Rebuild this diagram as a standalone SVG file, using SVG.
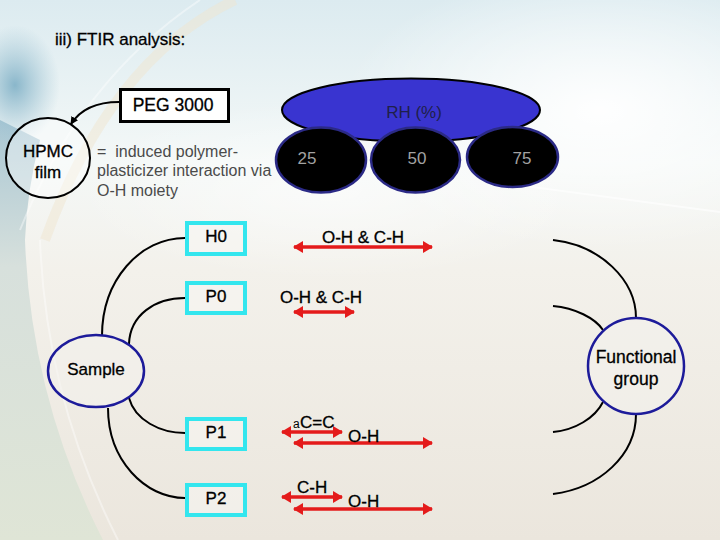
<svg xmlns="http://www.w3.org/2000/svg" width="720" height="540" viewBox="0 0 720 540">
<defs>
<style>
text{font-family:"Liberation Sans",Arial,sans-serif;fill:#000}
.t17{font-size:17px;stroke:#000;stroke-width:0.3}
.gray{fill:#4a4a4a;font-size:16px}
.num{fill:#a2a2a2;font-size:17px}
.cy{fill:#f6f5f1;fill-opacity:0.6;stroke:#33e6ee;stroke-width:4}
.blk{fill:#000;stroke:#2b2a86;stroke-width:2.5}
.nav{fill:#f4f2ee;fill-opacity:0.5;stroke:#1d1b9a;stroke-width:2.5}
.con{fill:none;stroke:#000;stroke-width:2}
.red{fill:none;stroke:#e41b1b;stroke-width:3.5;marker-start:url(#rh);marker-end:url(#rh)}
</style>
<marker id="rh" markerUnits="userSpaceOnUse" markerWidth="10" markerHeight="12" viewBox="0 0 10 12" refX="9" refY="6" orient="auto-start-reverse">
<path d="M0,0 L10,6 L0,12 z" fill="#e41b1b"/>
</marker>
<marker id="bh" markerUnits="userSpaceOnUse" markerWidth="8" markerHeight="8" viewBox="0 0 8 8" refX="7" refY="4" orient="auto">
<path d="M0,0 L8,4 L0,8 z" fill="#000"/>
</marker>
<linearGradient id="bg" x1="0" y1="0" x2="0" y2="1">
<stop offset="0" stop-color="#dcebf0"/>
<stop offset="0.3" stop-color="#f4f8f7"/>
<stop offset="0.5" stop-color="#f3f1eb"/>
<stop offset="1" stop-color="#ebe6dd"/>
</linearGradient>
<linearGradient id="lft" x1="0" y1="0" x2="0" y2="1">
<stop offset="0" stop-color="#a9c7d4"/>
<stop offset="0.35" stop-color="#d7e0dc"/>
<stop offset="1" stop-color="#dfe5d6"/>
</linearGradient>
<radialGradient id="glow" cx="0.5" cy="0.5" r="0.5">
<stop offset="0" stop-color="#ffffff" stop-opacity="0.95"/>
<stop offset="1" stop-color="#ffffff" stop-opacity="0"/>
</radialGradient>
<radialGradient id="blue" cx="0.5" cy="0.5" r="0.5">
<stop offset="0" stop-color="#7fb0c6" stop-opacity="0.9"/>
<stop offset="1" stop-color="#9cc2d2" stop-opacity="0"/>
</radialGradient>
</defs>

<g id="background">
<rect x="0" y="0" width="720" height="540" fill="url(#bg)"/>
<ellipse cx="600" cy="110" rx="260" ry="140" fill="url(#glow)"/>
<ellipse cx="330" cy="190" rx="260" ry="90" fill="url(#glow)" opacity="0.6"/>
<path d="M0,120 L40,140 Q27,190 25,240 A718,718 0 0,0 103,540 L0,540 z" fill="url(#lft)"/>
<path d="M40,240 A718,718 0 0,0 118,540" fill="none" stroke="#ffffff" stroke-width="2" opacity="0.4"/>
<ellipse cx="15" cy="85" rx="45" ry="60" fill="url(#blue)"/>
<path d="M235,0 Q110,60 45,240" fill="none" stroke="#efe6cf" stroke-width="10" opacity="0.5"/>
<path d="M200,0 Q80,80 20,230" fill="none" stroke="#ffffff" stroke-width="2" opacity="0.4"/>
<path d="M480,180 L720,212" fill="none" stroke="#ffffff" stroke-width="2" opacity="0.6"/>
</g>

<text id="title" class="t17" x="55" y="45">iii) FTIR analysis:</text>

<g id="connectors">
<path class="con" d="M119,102 C96,102 80,110 71,124" marker-end="url(#bh)"/>
<path class="con" d="M102,336 C102,280 140,238 185,238"/>
<path class="con" d="M129,344 C130,315 155,298 185,298"/>
<path class="con" d="M129,398 C135,420 160,433 185,433"/>
<path class="con" d="M108,408 C108,460 145,498 185,498"/>
<path class="con" d="M553,240 C600,245 636,280 636,318"/>
<path class="con" d="M553,306 C575,308 595,318 603,330"/>
<path class="con" d="M553,432 C575,430 595,418 603,402"/>
<path class="con" d="M553,494 C600,488 636,455 636,414"/>
</g>

<g id="peg">
<rect x="120.5" y="89.5" width="108" height="32" fill="#ffffff" stroke="#000" stroke-width="3"/>
<text class="t17" x="173" y="111" text-anchor="middle" style="font-size:17.5px">PEG 3000</text>
</g>

<g id="hpmc">
<ellipse cx="48" cy="158" rx="42" ry="40" fill="#ffffff" fill-opacity="0.4" stroke="#000" stroke-width="2"/>
<text class="t17" x="48" y="157" text-anchor="middle">HPMC</text>
<text class="t17" x="48" y="178" text-anchor="middle">film</text>
</g>

<g id="note">
<text class="gray" x="97" y="157" xml:space="preserve">=  induced polymer-</text>
<text class="gray" x="97" y="176">plasticizer interaction via</text>
<text class="gray" x="97" y="196">O-H moiety</text>
</g>

<g id="rh">
<ellipse cx="411" cy="110" rx="129" ry="31.5" fill="#3934d0" stroke="#000" stroke-width="2"/>
<text x="414" y="118" text-anchor="middle" style="fill:#20204a;font-size:17px">RH (%)</text>
</g>
<g id="rh25">
<ellipse class="blk" cx="321" cy="160" rx="45" ry="32.5"/>
<text class="num" x="307" y="164" text-anchor="middle">25</text>
</g>
<g id="rh50">
<ellipse class="blk" cx="415.5" cy="160" rx="44.5" ry="32.5"/>
<text class="num" x="417" y="164" text-anchor="middle">50</text>
</g>
<g id="rh75">
<ellipse class="blk" cx="512.5" cy="157" rx="45.5" ry="30"/>
<text class="num" x="522" y="164" text-anchor="middle">75</text>
</g>

<g id="sample">
<ellipse class="nav" cx="96" cy="371" rx="48" ry="36"/>
<text class="t17" x="96" y="375" text-anchor="middle">Sample</text>
</g>

<g id="functional">
<ellipse class="nav" cx="636" cy="366" rx="48" ry="48"/>
<text class="t17" x="636" y="363" text-anchor="middle" style="font-size:17.5px">Functional</text>
<text class="t17" x="636" y="385" text-anchor="middle" style="font-size:17.5px">group</text>
</g>

<g id="h0">
<rect class="cy" x="187" y="223" width="58" height="31"/>
<text class="t17" x="216" y="242" text-anchor="middle">H0</text>
</g>
<g id="p0">
<rect class="cy" x="187" y="283" width="58" height="30"/>
<text class="t17" x="216" y="302" text-anchor="middle">P0</text>
</g>
<g id="p1">
<rect class="cy" x="187" y="419" width="58" height="30"/>
<text class="t17" x="216" y="438" text-anchor="middle">P1</text>
</g>
<g id="p2">
<rect class="cy" x="187" y="485" width="58" height="30"/>
<text class="t17" x="216" y="504" text-anchor="middle">P2</text>
</g>

<g id="bands">
<line class="red" x1="294" y1="247" x2="432" y2="247"/>
<text class="t17" x="363" y="243" text-anchor="middle">O-H &amp; C-H</text>
<line class="red" x1="294" y1="312" x2="354" y2="312"/>
<text class="t17" x="321" y="303" text-anchor="middle">O-H &amp; C-H</text>
<line class="red" x1="282" y1="432" x2="342" y2="432"/>
<line class="red" x1="294" y1="443" x2="432" y2="443"/>
<text x="293" y="428" style="font-size:12px">a</text>
<text class="t17" x="300" y="428">C=C</text>
<text class="t17" x="348" y="442">O-H</text>
<line class="red" x1="282" y1="497" x2="342" y2="497"/>
<line class="red" x1="294" y1="509" x2="432" y2="509"/>
<text class="t17" x="297" y="493">C-H</text>
<text class="t17" x="348" y="507">O-H</text>
</g>
</svg>
